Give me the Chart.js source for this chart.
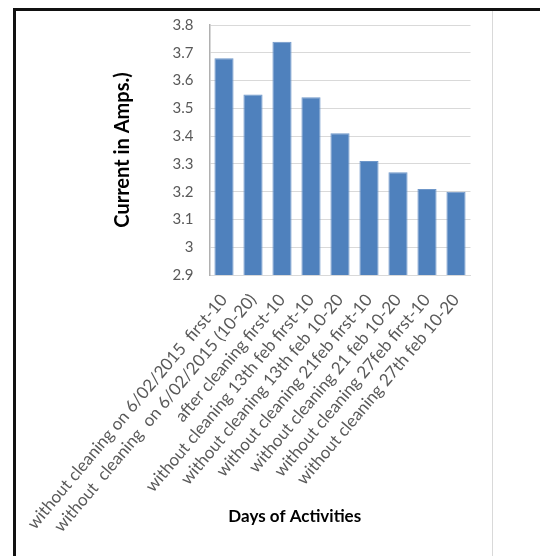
<!DOCTYPE html>
<html>
<head>
<meta charset="utf-8">
<title>Current in Amps by day of activity</title>
<script src="https://cdn.jsdelivr.net/npm/chart.js@4"></script>
<style>
    html, body { margin: 0; padding: 0; background: #fff; }
    body { width: 540px; height: 556px; position: relative; overflow: hidden; }
    #frame {
        position: absolute; left: 13px; top: 8px; right: -10px; bottom: -10px;
        border-top: 3px solid #111; border-left: 3px solid #111;
    }
    #divider { position: absolute; left: 492px; top: 11px; bottom: 0; width: 1px; background: #d9d9d9; }
    #chart { position: absolute; left: 0; top: 0; }
</style>
</head>
<body>
<div id="frame"></div>
<div id="divider"></div>
<canvas id="chart" width="540" height="556"></canvas>
<script>
// Data
const categories = [
    'without cleaning on 6/02/2015  first-10',
    'without  cleaning  on 6/02/2015 (10-20)',
    'after cleaning first-10',
    'without cleaning 13th feb first-10',
    'without cleaning 13th feb 10-20',
    'without cleaning 21feb first-10',
    'without cleaning 21 feb 10-20',
    'without cleaning 27feb first-10',
    'without cleaning 27th feb 10-20'
];
const currentAmps = [3.68, 3.55, 3.74, 3.54, 3.41, 3.31, 3.27, 3.21, 3.20];
const yTickLabels = ['2.9', '3', '3.1', '3.2', '3.3', '3.4', '3.5', '3.6', '3.7', '3.8'];

Chart.defaults.font.family = 'Lato, "Open Sans", sans-serif';

const ctx = document.getElementById('chart').getContext('2d');
new Chart(ctx, {
    type: 'bar',
    data: {
        labels: categories,
        datasets: [{
            label: 'Current in Amps.)',
            data: currentAmps,
            backgroundColor: '#4f81bd',
            borderColor: '#6f97c9',
            borderWidth: 1,
            barPercentage: 0.66,
            categoryPercentage: 1
        }]
    },
    options: {
        responsive: false,
        animation: false,
        layout: {
            padding: { left: 119, right: 69.5, top: 25, bottom: 0 }
        },
        plugins: {
            legend: { display: false },
            tooltip: { enabled: false },
            // zero-height box so the x tick labels can run to the bottom edge
            title: {
                display: true,
                position: 'bottom',
                text: 'Days of Activities',
                color: '#000',
                font: { size: 17, weight: 'bold', lineHeight: 1.2 },
                padding: { top: -49.5, bottom: 29.1 }
            }
        },
        scales: {
            x: {
                grid: { display: false, drawTicks: false },
                border: { color: '#d9d9d9', width: 1 },
                ticks: {
                    color: '#595959',
                    font: { size: 17 },
                    minRotation: 50,
                    maxRotation: 50,
                    autoSkip: false,
                    padding: 15
                },
                afterFit: (scale) => { scale.height = 281; }
            },
            y: {
                min: 2.9,
                max: 3.8,
                grid: { color: '#d9d9d9', drawTicks: false },
                border: { color: '#b0b0b0', width: 1.5 },
                ticks: {
                    stepSize: 0.1,
                    color: '#595959',
                    font: { size: 15 },
                    padding: 16,
                    callback: (v, i) => yTickLabels[i]
                },
                title: {
                    display: true,
                    text: 'Current in Amps.)',
                    color: '#000',
                    font: { size: 20, weight: 'bold' },
                    padding: { top: -8.5, bottom: 0 }
                },
                afterFit: (scale) => { scale.width = 90.5; }
            }
        }
    }
});
</script>
</body>
</html>
